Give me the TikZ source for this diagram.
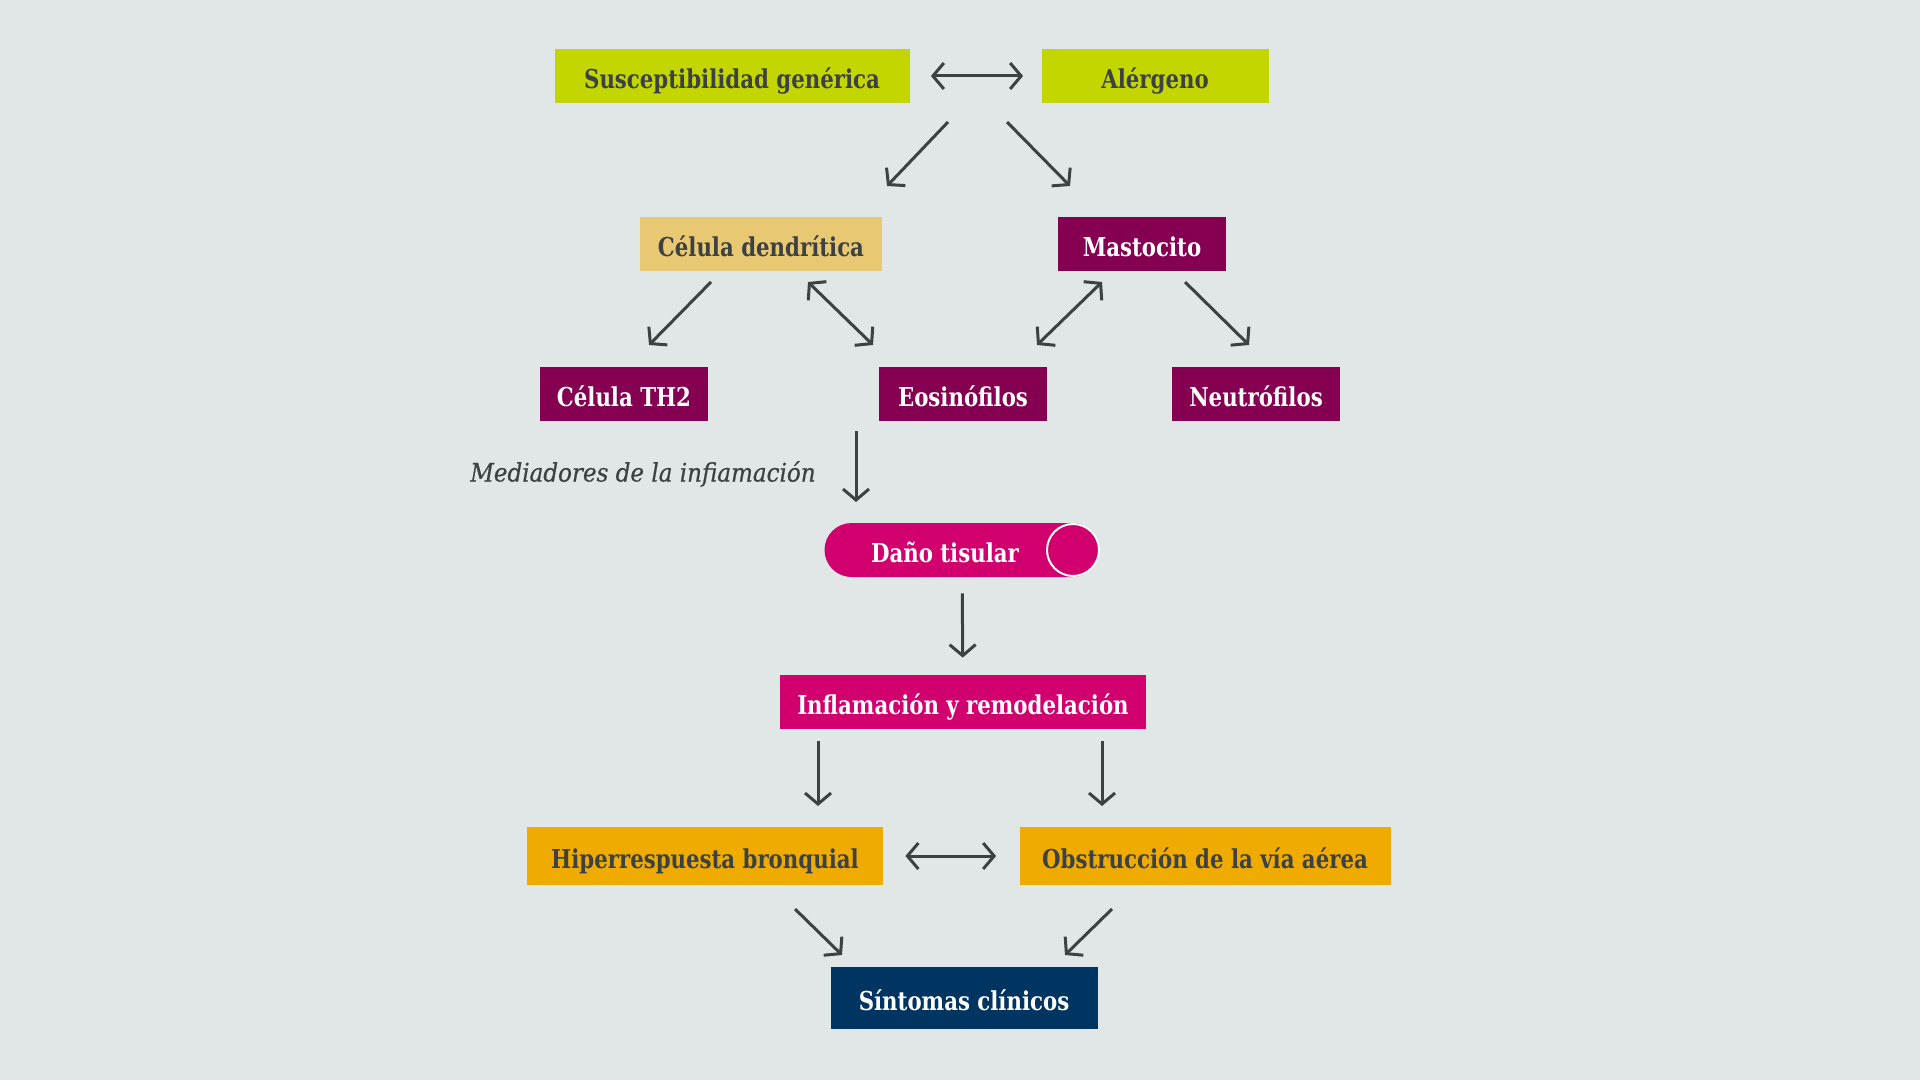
\documentclass[tikz,border=0pt]{standalone}
\usepackage{fontspec}
\setmainfont{DejaVu Serif Condensed}[FakeStretch=0.91]
\newfontfamily\notafont{DejaVu Serif Condensed}[FakeBold=0.6]
\usetikzlibrary{arrows.meta}

\definecolor{fondo}{HTML}{E1E7E7}
\definecolor{lima}{HTML}{C4D600}
\definecolor{arena}{HTML}{E8C872}
\definecolor{vino}{HTML}{850050}
\definecolor{fucsia}{HTML}{D1006E}
\definecolor{naranja}{HTML}{F0AB00}
\definecolor{marino}{HTML}{003461}
\definecolor{grafito}{HTML}{3C4141}

\tikzset{
  caja/.style={rectangle, inner sep=0pt, minimum height=27pt, text height=12.3pt, text depth=0pt, font=\bfseries\fontsize{13}{15}\selectfont},
  clara/.style={caja, text=grafito},
  oscura/.style={caja, text=white},
  flecha/.style={draw=grafito, line width=1.5pt, -{Straight Barb[length=5.5pt, width=13pt, line width=1.5pt]}},
  doble/.style={flecha, {Straight Barb[length=5.5pt, width=13pt, line width=1.5pt]}-{Straight Barb[length=5.5pt, width=13pt, line width=1.5pt]}}
}

\begin{document}
\begin{tikzpicture}[x=0.5pt, y=-0.5pt]
      \path[fill=fondo] (0,0) rectangle (1920,1080);
      % cajas
      \node[clara, fill=lima, minimum width=177.5pt] (sus) at (732,76) {Susceptibilidad genérica};
      \node[clara, fill=lima, minimum width=113.5pt] (ale) at (1155,76) {Alérgeno};
      \node[clara, fill=arena, minimum width=121pt] (den) at (761,244) {Célula dendrítica};
      \node[oscura, fill=vino, minimum width=84pt] (mas) at (1142,244) {Mastocito};
      \node[oscura, fill=vino, minimum width=84pt] (th2) at (624,394) {Célula TH2};
      \node[oscura, fill=vino, minimum width=84pt] (eos) at (963,394) {Eosinófilos};
      \node[oscura, fill=vino, minimum width=84pt] (neu) at (1256,394) {Neutrófilos};
      \node[caja, fill=fucsia, rounded corners=13.5pt, minimum width=137.5pt] (dano) at (962,550) {};
      \node[draw=white, line width=1pt, fill=fucsia, circle, minimum size=26pt] (tapa) at (1073,550) {};
      \node[oscura] (danotxt) at (945,550) {Daño tisular};
      \node[oscura, fill=fucsia, minimum width=183pt] (inf) at (963,702) {Inflamación y remodelación};
      \node[clara, fill=naranja, minimum width=178pt, minimum height=29pt] (hip) at (705,856) {Hiperrespuesta bronquial};
      \node[clara, fill=naranja, minimum width=185.5pt, minimum height=29pt] (obs) at (1205,856) {Obstrucción de la vía aérea};
      \node[oscura, fill=marino, minimum width=133.5pt, minimum height=31pt] (sin) at (964,998) {Síntomas clínicos};
      \node[text=grafito, anchor=east, inner sep=0pt, font=\notafont\itshape\fontsize{12.8}{15}\selectfont] (med) at (816,474) {Mediadores de la infiamación};
      % extremos sueltos
      \coordinate (a1) at (948,122);  \coordinate (a2) at (887,186);
      \coordinate (b1) at (1007,122); \coordinate (b2) at (1070,186);
      \coordinate (c1) at (711,282);  \coordinate (c2) at (649,345);
      \coordinate (d1) at (808,282);  \coordinate (d2) at (873,345);
      \coordinate (e1) at (1102,282); \coordinate (e2) at (1037,345);
      \coordinate (f1) at (1185,282); \coordinate (f2) at (1249,345);
      \coordinate (g1) at (856,431);  \coordinate (g2) at (856,502);
      \coordinate (h1) at (818,741);  \coordinate (h2) at (818,806);
      \coordinate (i1) at (1102,741); \coordinate (i2) at (1102,806);
      \coordinate (j1) at (795,909);  \coordinate (j2) at (842,955);
      \coordinate (k1) at (1112,909); \coordinate (k2) at (1065,955);
      \begin{scope}[flecha]
        \draw[doble, shorten <=10.5pt, shorten >=9pt] (sus) to (ale);
        \draw (a1) to (a2);
        \draw (b1) to (b2);
        \draw (c1) to (c2);
        \draw[doble] (d1) to (d2);
        \draw[doble] (e1) to (e2);
        \draw (f1) to (f2);
        \draw (g1) to (g2);
        \draw[shorten <=8pt, shorten >=8.5pt] (dano) to (inf);
        \draw (h1) to (h2);
        \draw (i1) to (i2);
        \draw[doble, shorten <=11pt, shorten >=11.5pt] (hip) to (obs);
        \draw (j1) to (j2);
        \draw (k1) to (k2);
      \end{scope}
    \end{tikzpicture}
\end{document}
